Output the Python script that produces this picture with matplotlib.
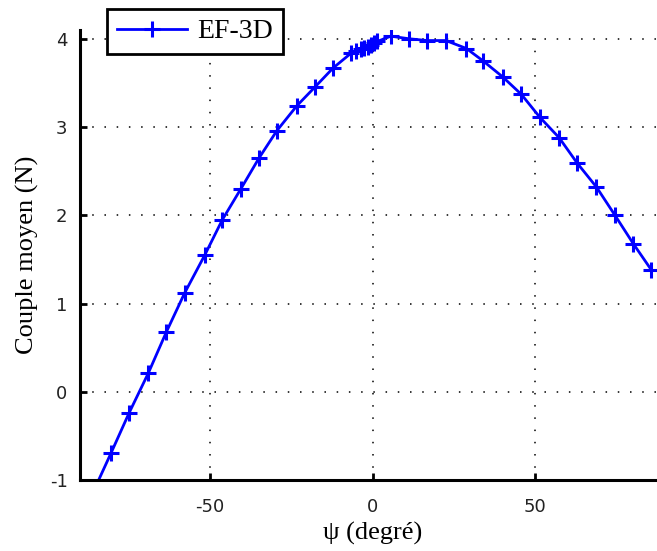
import matplotlib
matplotlib.use('Agg')
import matplotlib.pyplot as plt
import numpy as np

# angle psi (deg) and mean torque, EF-3D
psi = [-86.0, -80.4, -74.9, -69.0, -63.4, -57.8, -51.6, -46.2, -40.5, -34.9,
       -29.4, -23.3, -17.8, -12.1, -6.5, -5.0, -3.5, -2.5, -1.5, -0.5, 0.5, 1.5,
       5.6, 11.3, 16.9, 22.6, 28.9, 34.0, 40.0, 45.8, 51.5, 57.4, 63.0, 68.9,
       74.6, 80.2, 85.8]
couple = [-1.14, -0.69, -0.24, 0.21, 0.68, 1.12, 1.55, 1.95, 2.30, 2.65,
          2.96, 3.24, 3.45, 3.67, 3.84, 3.86, 3.88, 3.90, 3.91, 3.93, 3.95, 3.97,
          4.03, 4.00, 3.98, 3.98, 3.89, 3.75, 3.57, 3.37, 3.11, 2.88, 2.59, 2.32,
          2.00, 1.68, 1.38]

matplotlib.rcParams['font.family'] = 'Liberation Serif'
matplotlib.rcParams['axes.unicode_minus'] = False

fig = plt.figure(figsize=(6.57, 5.51), dpi=100)
ax = fig.add_axes([0.1218, 0.1289, 0.8904, 0.8167])

ax.plot(psi, couple, color='#0000ff', linewidth=2, marker='+',
        markersize=12, markeredgewidth=2.2, label='EF-3D')

ax.set_xlim(-90, 90)
ax.set_ylim(-1, 4.1)
ax.set_xticks([-50, 0, 50])
ax.set_yticks([-1, 0, 1, 2, 3, 4])
ax.grid(True, linestyle=(0, (1, 7)), color='black', linewidth=1.1)
ax.set_axisbelow(True)

ax.spines['top'].set_visible(False)
ax.spines['right'].set_visible(False)
ax.spines['left'].set_linewidth(2.2)
ax.spines['bottom'].set_linewidth(2.2)
ax.tick_params(direction='in', length=5, width=2)
ax.tick_params(axis='x', pad=13)
ax.tick_params(axis='y', pad=9)
for lab in ax.get_xticklabels() + ax.get_yticklabels():
    lab.set_family('DejaVu Sans')
    lab.set_fontsize(13)
    lab.set_color('#222222')

ax.set_xlabel(u'\u03c8 (degr\u00e9)', fontsize=19, labelpad=4)
ax.set_ylabel('Couple moyen (N)', fontsize=19, labelpad=8)

leg = ax.legend(loc='upper left', bbox_to_anchor=(0.023, 1.077), frameon=True,
                fancybox=False, fontsize=20, handlelength=2.5,
                borderpad=0.35, handletextpad=0.4)
leg.get_frame().set_edgecolor('black')
leg.get_frame().set_linewidth(2)
leg.get_frame().set_alpha(1)

plt.savefig('out.png', dpi=100)
